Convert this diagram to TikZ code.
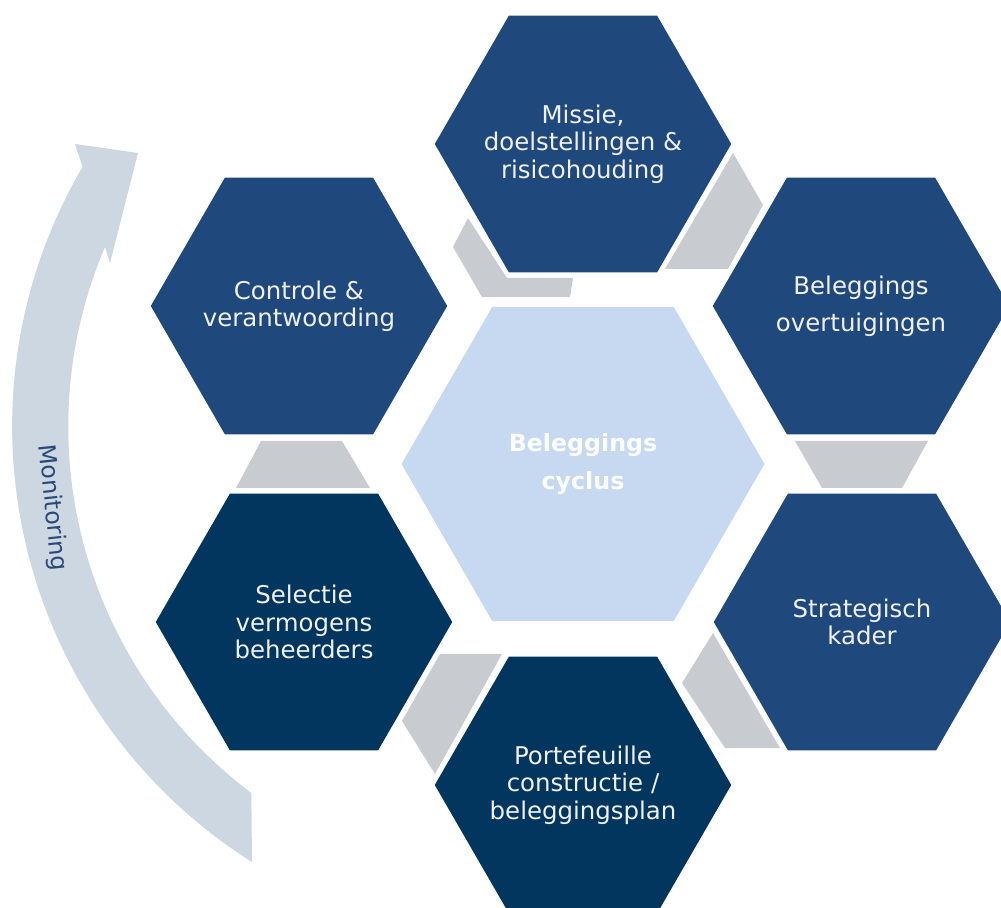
\documentclass[tikz,border=0pt]{standalone}
\usepackage{fontspec}
\setmainfont{DejaVu Sans}
\usetikzlibrary{shapes.geometric}

\definecolor{navy}{RGB}{31,73,125}
\definecolor{deepnavy}{RGB}{3,54,94}
\definecolor{paleblue}{RGB}{198,217,241}
\definecolor{linkgray}{RGB}{200,203,207}
\definecolor{arcblue}{RGB}{204,215,225}
\definecolor{labelblue}{RGB}{41,73,118}

\begin{document}
\begin{tikzpicture}[x=0.02cm, y=-0.02cm,
   hexa/.style = {regular polygon, regular polygon sides=6, inner sep=-0.6cm,
      minimum size=5.93cm, fill=navy, text=white!94!black, align=center,
      font=\fontsize{13.9}{15.6}\selectfont},
   link/.style = {fill=linkgray}]
   \useasboundingbox (0,0) rectangle (1001,908);
   \clip (0,0) rectangle (1001,908);

   % monitoring arrow
   \fill[arcblue] (252,862) arc[start angle=122.3, end angle=210.3, radius=515]
      -- (75,144) -- (138,153) -- (110,263) -- (105,247)
      arc[start angle=203.1, end angle=126.9, radius=458] -- cycle;
   \node[rotate=-84, text=labelblue, font=\fontsize{13.5}{15.5}\selectfont]
      (mon) at (52,508) {Monitoring};

   % links between the steps
   \fill[link] (468,218) -- (453,247) -- (482,297) -- (570,297) -- (573,278) -- (507,278) -- cycle;
   \fill[link] (733,153) -- (763,205) -- (728,269) -- (665,269) -- cycle;
   \fill[link] (795,441) -- (928,441) -- (902,488) -- (822,488) -- cycle;
   \fill[link] (713,633) -- (682,683) -- (725,748) -- (780,748) -- cycle;
   \fill[link] (440,654) -- (502,654) -- (435,774) -- (402,721) -- cycle;
   \fill[link] (261,441) -- (342,441) -- (370,488) -- (236,488) -- cycle;

   % the steps
   \node[hexa, minimum size=7.26cm, fill=paleblue, text=white!96!paleblue,
      font=\fontsize{13.5}{21.6}\selectfont\bfseries] (c) at (583,464) {Beleggings\\cyclus};
   \node[hexa] (m) at (583,144) {Missie,\\doelstellingen \&\\risicohouding};
   \node[hexa, font=\fontsize{13.9}{21}\selectfont] (o) at (861,306) {Beleggings\\overtuigingen};
   \node[hexa] (k) at (862,622) {Strategisch\\kader};
   \node[hexa, fill=deepnavy] (p) at (583,785) {Portefeuille\\constructie /\\beleggingsplan};
   \node[hexa, fill=deepnavy] (s) at (304,622) {Selectie\\vermogens\\beheerders};
   \node[hexa] (v) at (299,306) {Controle \&\\verantwoording};
\end{tikzpicture}
\end{document}
